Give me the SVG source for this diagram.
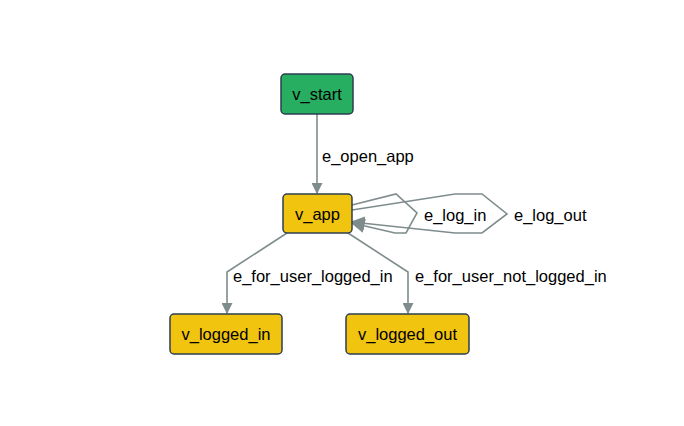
<svg xmlns="http://www.w3.org/2000/svg" width="684" height="426" viewBox="0 0 684 426">
<defs>
<marker id="arr" viewBox="0 0 10 10" refX="9" refY="5" markerWidth="11" markerHeight="11" markerUnits="userSpaceOnUse" orient="auto">
<path d="M0,0 L10,5 L0,10 z" fill="#7f8c8d"/>
</marker>
<marker id="arrL" viewBox="0 0 10 10" refX="9" refY="5" markerWidth="14" markerHeight="14" markerUnits="userSpaceOnUse" orient="auto">
<path d="M0,0 L10,5 L0,10 z" fill="#7f8c8d"/>
</marker>
<style>
.n rect{stroke:#2c3e50;stroke-width:1.5}
.t{font-family:"Liberation Sans",Arial,sans-serif;font-size:16.5px;fill:#000}
.e{fill:none;stroke:#7f8c8d;stroke-width:1.6}
</style>
</defs>
<rect width="684" height="426" fill="#fff"/>
<g id="edges">
<path class="e" d="M317,114 L317,193" marker-end="url(#arr)"/>
<text class="t" x="322" y="162">e_open_app</text>
<path class="e" d="M287,233 L227,272 L227,313" marker-end="url(#arr)"/>
<text class="t" x="233" y="282">e_for_user_logged_in</text>
<path class="e" d="M348,233 L408,272 L408,313" marker-end="url(#arr)"/>
<text class="t" x="415" y="282">e_for_user_not_logged_in</text>
<path class="e" d="M352,205 L396,194 L417,213 L406,233 L395,233 L352,223" marker-end="url(#arrL)"/>
<text class="t" x="424" y="221">e_log_in</text>
<path class="e" d="M352,210 L455,194 L482,194 L507,214 L482,233 L455,233 L352,222" marker-end="url(#arrL)"/>
<text class="t" x="514" y="221">e_log_out</text>
</g>
<g id="v_start" class="n">
<rect x="281" y="74" width="72" height="40" rx="4" fill="#27ae60"/>
<text class="t" x="317" y="100" text-anchor="middle">v_start</text>
</g>
<g id="v_app" class="n">
<rect x="283" y="194" width="69" height="39" rx="4" fill="#f1c40f"/>
<text class="t" x="317.5" y="220" text-anchor="middle">v_app</text>
</g>
<g id="v_logged_in" class="n">
<rect x="170" y="314" width="112" height="40" rx="4" fill="#f1c40f"/>
<text class="t" x="226" y="340" text-anchor="middle">v_logged_in</text>
</g>
<g id="v_logged_out" class="n">
<rect x="346" y="314" width="123" height="40" rx="4" fill="#f1c40f"/>
<text class="t" x="407.5" y="340" text-anchor="middle">v_logged_out</text>
</g>
</svg>
